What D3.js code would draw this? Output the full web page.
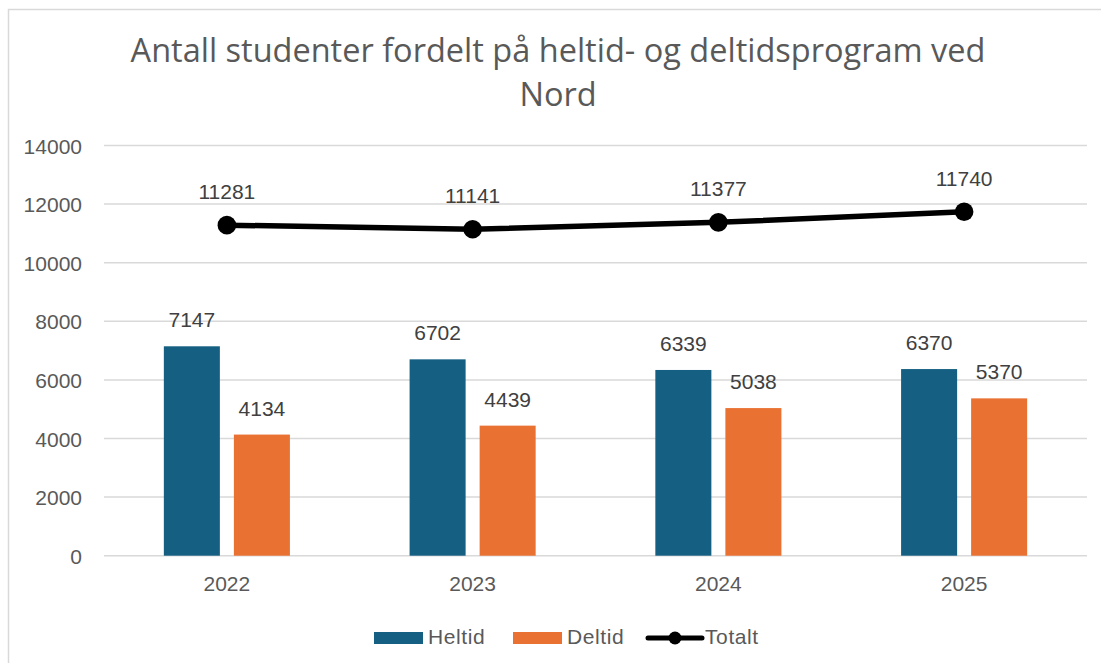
<!DOCTYPE html>
<html>
<head>
<meta charset="utf-8">
<script src="https://cdn.jsdelivr.net/npm/d3@7"></script>
<style>
  body { margin: 0; background: #fff; }
  text { font-family: "Liberation Sans", Arial, sans-serif; }
</style>
</head>
<body>
<script>
var years = ["2022", "2023", "2024", "2025"];
var heltid = [7147, 6702, 6339, 6370];
var deltid = [4134, 4439, 5038, 5370];
var totalt = [11281, 11141, 11377, 11740];
var yTicks = [0, 2000, 4000, 6000, 8000, 10000, 12000, 14000];
var seriesNames = ["Heltid", "Deltid", "Totalt"];

var width = 1101;
var height = 663;
var plotLeft = 104;
var plotRight = 1087;
var plotTop = 145.5;
var plotBottom = 555.7;

var textColor = "#595959";
var colors = { Heltid: "#156082", Deltid: "#E97132" };

var svg = d3.select("body").append("svg")
  .attr("width", width)
  .attr("height", height);

// chart frame (only left and top edges are visible)
svg.append("rect")
  .attr("x", 8.5).attr("y", 9.5)
  .attr("width", 1200).attr("height", 800)
  .attr("fill", "none")
  .attr("stroke", "#d9d9d9")
  .attr("stroke-width", 1.5);

// title
var title = svg.append("text")
  .attr("text-anchor", "middle")
  .attr("fill", textColor)
  .style("font-family", "'Open Sans', sans-serif")
  .style("font-size", "32.5px");
title.append("tspan").attr("x", 558).attr("y", 62)
  .text("Antall studenter fordelt på heltid- og deltidsprogram ved");
title.append("tspan").attr("x", 558).attr("y", 106)
  .text("Nord");

// scales
var x0 = d3.scaleBand()
  .domain(years)
  .range([plotLeft, plotRight])
  .paddingInner(0.487)
  .paddingOuter(0.2435);

var x1 = d3.scaleBand()
  .domain(["Heltid", "Deltid"])
  .range([0, x0.bandwidth()])
  .paddingInner(0.2);

var y = d3.scaleLinear()
  .domain([0, 14000])
  .range([plotBottom, plotTop]);

// gridlines
svg.append("g")
  .selectAll("line")
  .data(yTicks)
  .enter().append("line")
  .attr("x1", plotLeft).attr("x2", plotRight)
  .attr("y1", d => y(d)).attr("y2", d => y(d))
  .attr("stroke", "#d9d9d9")
  .attr("stroke-width", 1.5);

// y axis
var yAxis = d3.axisLeft(y).tickValues(yTicks).tickSize(0).tickPadding(0).tickFormat(d3.format("d"));
var yG = svg.append("g")
  .attr("transform", "translate(82,0)")
  .call(yAxis);
yG.select(".domain").remove();
yG.selectAll("text")
  .attr("fill", textColor)
  .attr("dy", "0.36em")
  .style("font-size", "21px");

// x axis
var xAxis = d3.axisBottom(x0).tickSize(0).tickPadding(0);
var xG = svg.append("g")
  .attr("transform", "translate(0," + plotBottom + ")")
  .call(xAxis);
xG.select(".domain").remove();
xG.selectAll("text")
  .attr("fill", textColor)
  .attr("y", 35)
  .attr("dy", 0)
  .style("font-size", "21px");

// bars
var barData = [];
years.forEach(function(yr, i) {
  barData.push({ year: yr, key: "Heltid", value: heltid[i] });
  barData.push({ year: yr, key: "Deltid", value: deltid[i] });
});

var bars = svg.append("g");
bars.selectAll("rect")
  .data(barData)
  .enter().append("rect")
  .attr("x", d => x0(d.year) + x1(d.key))
  .attr("y", d => y(d.value))
  .attr("width", x1.bandwidth())
  .attr("height", d => y(0) - y(d.value))
  .attr("fill", d => colors[d.key]);

bars.selectAll("text")
  .data(barData)
  .enter().append("text")
  .attr("x", d => x0(d.year) + x1(d.key) + x1.bandwidth() / 2)
  .attr("y", d => y(d.value) - 19)
  .attr("text-anchor", "middle")
  .attr("fill", "#404040")
  .style("font-size", "21px")
  .text(d => d.value);

// total line
var cx = d => x0(d.year) + x0.bandwidth() / 2;
var lineData = years.map((yr, i) => ({ year: yr, value: totalt[i] }));

svg.append("path")
  .datum(lineData)
  .attr("fill", "none")
  .attr("stroke", "#000")
  .attr("stroke-width", 5.5)
  .attr("stroke-linejoin", "round")
  .attr("d", d3.line().x(cx).y(d => y(d.value)));

svg.append("g").selectAll("circle")
  .data(lineData)
  .enter().append("circle")
  .attr("cx", cx)
  .attr("cy", d => y(d.value))
  .attr("r", 9.3)
  .attr("fill", "#000");

svg.append("g").selectAll("text")
  .data(lineData)
  .enter().append("text")
  .attr("x", cx)
  .attr("y", d => y(d.value) - 26)
  .attr("text-anchor", "middle")
  .attr("fill", "#404040")
  .style("font-size", "21px")
  .text(d => d.value);

// legend
var legend = svg.append("g").attr("id", "legend");
var legendX = { Heltid: 374, Deltid: 513, Totalt: 648 };

["Heltid", "Deltid"].forEach(function(name) {
  legend.append("rect")
    .attr("x", legendX[name]).attr("y", 632)
    .attr("width", 49).attr("height", 12)
    .attr("fill", colors[name]);
  legend.append("text")
    .attr("x", legendX[name] + 54).attr("y", 644)
    .attr("fill", textColor)
    .style("font-size", "21px")
    .style("letter-spacing", "0.6px")
    .text(name);
});

legend.append("line")
  .attr("x1", legendX.Totalt).attr("x2", legendX.Totalt + 54)
  .attr("y1", 638).attr("y2", 638)
  .attr("stroke", "#000")
  .attr("stroke-width", 5)
  .attr("stroke-linecap", "round");
legend.append("circle")
  .attr("cx", legendX.Totalt + 27).attr("cy", 638)
  .attr("r", 6.5)
  .attr("fill", "#000");
legend.append("text")
  .attr("x", legendX.Totalt + 57).attr("y", 644)
  .attr("fill", textColor)
  .style("font-size", "21px")
  .style("letter-spacing", "0.6px")
  .text(seriesNames[2]);
</script>
</body>
</html>
